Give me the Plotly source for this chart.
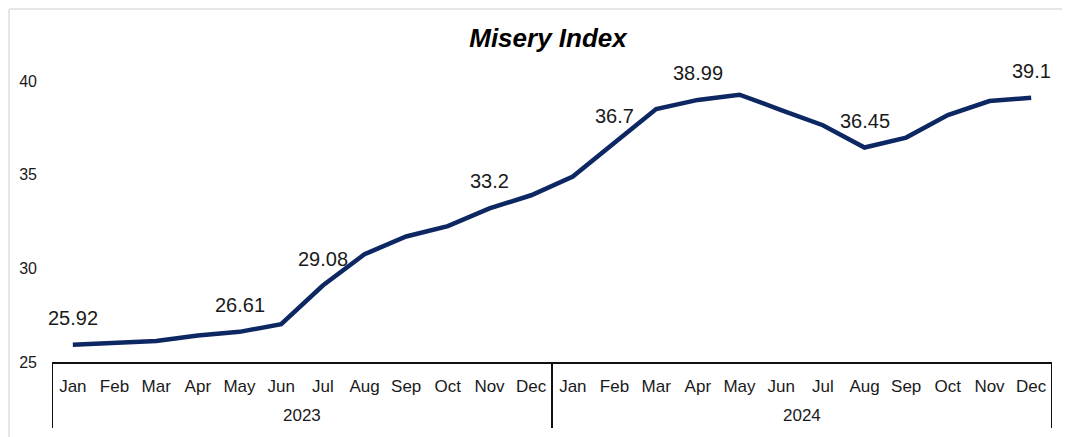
import plotly.graph_objects as go

months = ["Jan", "Feb", "Mar", "Apr", "May", "Jun", "Jul", "Aug", "Sep", "Oct", "Nov", "Dec"]
years = ["2023", "2024"]
values = [25.92, 26.0, 26.12, 26.42, 26.61, 27.02, 29.08, 30.75, 31.7, 32.25, 33.2, 33.9,
          34.9, 36.7, 38.5, 38.99, 39.27, 38.45, 37.64, 36.45, 36.98, 38.18, 38.93, 39.1]
label_idx = [0, 4, 6, 10, 13, 15, 19, 23]
label_text = ["25.92", "26.61", "29.08", "33.2", "36.7", "38.99", "36.45", "39.1"]

x_idx = list(range(len(values)))
tick_text = months * len(years)

FONT = "Liberation Sans, Arial, sans-serif"
NAVY = "#0d2763"

# page has an 8px body margin; layout is expressed relative to the figure
OFF = 8
W, H = 1070, 437
PL, PR, PT, PB = 52 - OFF, 1052 - OFF, 81 - OFF, 362 - OFF
ph = PB - PT

fig = go.Figure()
fig.add_trace(go.Scatter(
    x=x_idx, y=values, mode="lines",
    line=dict(color=NAVY, width=4.5),
    hoverinfo="skip", showlegend=False, cliponaxis=False,
))

for i, t in zip(label_idx, label_text):
    fig.add_annotation(x=i, y=values[i], text=t, showarrow=False,
                       yshift=27, font=dict(family=FONT, size=20, color="#1a1a1a"))

n = len(months)
for k, yr in enumerate(years):
    fig.add_annotation(x=k * n + (n - 1) / 2, y=-53 / ph, xref="x", yref="paper",
                       text=yr, showarrow=False, yanchor="middle",
                       font=dict(family=FONT, size=17, color="#1a1a1a"))
for k in range(len(years) + 1):
    fig.add_shape(type="line", xref="x", yref="paper",
                  x0=k * n - 0.5, x1=k * n - 0.5, y0=0, y1=-66 / ph,
                  line=dict(color="#111111", width=2))

# light frame along top and left edge
fig.add_shape(type="line", xref="paper", yref="paper",
              x0=-(PL - 1) / (PR - PL), x1=(W - PL) / (PR - PL),
              y0=1 + (PT - 1) / ph, y1=1 + (PT - 1) / ph,
              line=dict(color="#e6e6e6", width=2))
fig.add_shape(type="line", xref="paper", yref="paper",
              x0=-(PL - 1) / (PR - PL), x1=-(PL - 1) / (PR - PL),
              y0=1 + (PT - 1) / ph, y1=-(H - PB) / ph,
              line=dict(color="#e6e6e6", width=2))

fig.update_layout(
    width=W, height=H,
    margin=dict(l=PL, r=W - PR, t=PT, b=H - PB, autoexpand=False),
    paper_bgcolor="white", plot_bgcolor="white",
    title=dict(text="<b><i>Misery Index</i></b>", x=(548 - OFF) / W, xref="container",
               y=1 - (38 - OFF) / H, yref="container", xanchor="center", yanchor="middle",
               font=dict(family=FONT, size=26, color="black")),
    xaxis=dict(range=[-0.5, len(values) - 0.5], tickmode="array", tickvals=x_idx,
               ticktext=tick_text, showgrid=False, zeroline=False, automargin=False,
               showline=True, linecolor="#111111", linewidth=2, ticks="",
               ticklabelstandoff=8,
               tickfont=dict(family=FONT, size=17, color="#1a1a1a")),
    yaxis=dict(range=[25, 40], tickvals=[25, 30, 35, 40], showgrid=False, automargin=False,
               zeroline=False, showline=False, ticks="", ticklabelstandoff=14,
               tickfont=dict(family=FONT, size=16, color="#1a1a1a")),
)

fig.write_html("out.html")
